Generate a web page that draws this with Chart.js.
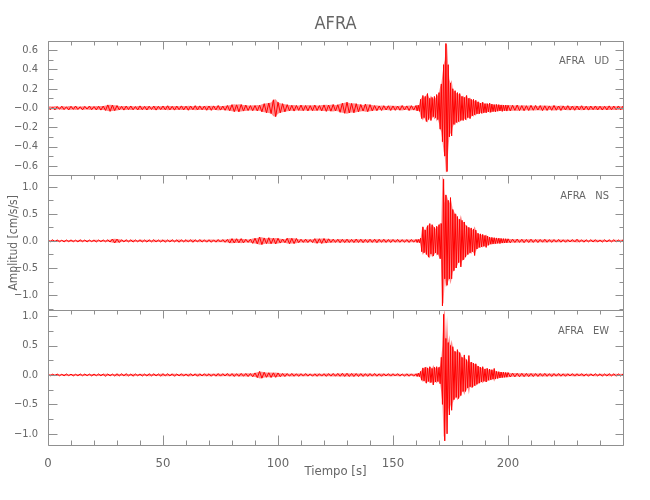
<!DOCTYPE html>
<html>
<head>
<meta charset="utf-8">
<title>AFRA</title>
<script src="https://cdn.jsdelivr.net/npm/chart.js@4.4.0/dist/chart.umd.min.js"></script>
<style>
    body { margin: 0; background: #fff; }
</style>
</head>
<body>
<canvas id="grafico" width="650" height="500"></canvas>
<script>
const estacion = "AFRA";
const canales = ["UD", "NS", "EW"];

// muestreo: 1 s fuera del sismo, 0.5 s entre 160 y 200 s
const tramos = [[0, 160, 1], [160.5, 200, 0.5], [201, 250, 1]];
const tiempo = [];
tramos.forEach(([desde, hasta, paso]) => {
    for (let t = desde; t <= hasta + 1e-9; t += paso) tiempo.push(Math.round(t * 10) / 10);
});

const ampUD = [
    0.015, -0.018, 0.012, -0.02, 0.016, -0.014, 0.019, -0.017, 0.013, -0.02,
    0.018, -0.015, 0.02, -0.016, 0.014, -0.019, 0.017, -0.013, 0.02, -0.018,
    0.016, -0.02, 0.018, -0.022, 0.02, -0.025, 0.032, -0.035, 0.03, -0.028,
    0.025, -0.02, 0.018, -0.022, 0.02, -0.017, 0.021, -0.019, 0.016, -0.02,
    0.022, -0.018, 0.017, -0.021, 0.019, -0.016, 0.02, -0.022, 0.018, -0.017,
    0.021, -0.019, 0.023, -0.02, 0.018, -0.022, 0.02, -0.018, 0.022, -0.02,
    0.019, -0.023, 0.021, -0.018, 0.024, -0.02, 0.022, -0.019, 0.02, -0.023,
    0.021, -0.024, 0.022, -0.02, 0.025, -0.022, 0.02, -0.024, 0.026, -0.028,
    0.035, -0.038, 0.033, -0.04, 0.036, -0.032, 0.03, -0.027, 0.025, -0.028,
    0.026, -0.03, 0.028, -0.04, 0.045, -0.05, 0.052, -0.058, 0.085, -0.09,
    0.06, -0.05, 0.045, -0.04, 0.035, -0.03, 0.028, -0.032, 0.027, -0.025,
    0.03, -0.028, 0.026, -0.03, 0.025, -0.028, 0.03, -0.027, 0.025, -0.03,
    0.032, -0.035, 0.03, -0.033, 0.036, -0.03, 0.034, -0.045, 0.05, -0.055,
    0.06, -0.052, 0.048, -0.05, 0.045, -0.04, 0.036, -0.032, 0.04, -0.038,
    0.035, -0.03, 0.025, -0.028, 0.022, -0.025, 0.024, -0.021, 0.023, -0.025,
    0.022, -0.024, 0.02, -0.023, 0.025, -0.021, 0.022, -0.026, 0.024, -0.022,
    0.025,
    // 160.5 - 200 s
    -0.03, 0.028, -0.035, 0.09, -0.11, 0.13, -0.1, 0.12, -0.14, 0.15,
    -0.12, 0.1, -0.13, 0.11, -0.09, 0.12, -0.1, 0.14, -0.12, 0.16,
    -0.22, 0.25, -0.35, 0.45, -0.5, 0.67, -0.66, 0.45, -0.3, 0.26,
    -0.29, 0.2, -0.17, 0.18, -0.15, 0.16, -0.14, 0.15, -0.13, 0.12,
    -0.13, 0.11, -0.12, 0.13, -0.1, 0.1, -0.11, 0.09, -0.08, 0.09,
    -0.07, 0.08, -0.06, 0.065, -0.06, 0.05, -0.055, 0.06, -0.05, 0.045,
    -0.05, 0.045, -0.04, 0.05, -0.045, 0.04, -0.038, 0.035, -0.04, 0.036,
    -0.033, 0.035, -0.03, 0.032, -0.035, 0.03, -0.028, 0.03, -0.032, 0.028,
    // 201 - 250 s
    -0.03, 0.028, -0.025, 0.03, -0.027, 0.025, -0.028, 0.024, -0.026, 0.027,
    -0.024, 0.026, -0.022, 0.025, -0.027, 0.023, -0.025, 0.022, -0.024, 0.026,
    -0.023, 0.021, -0.025, 0.022, -0.02, 0.024, -0.022, 0.02, -0.023, 0.021,
    -0.02, 0.023, -0.021, 0.019, -0.022, 0.02, -0.018, 0.021, -0.02, 0.019,
    -0.021, 0.018, -0.02, 0.022, -0.019, 0.02, -0.018, 0.021, -0.019, 0.02
];

const ampNS = [
    0.015, -0.017, 0.02, -0.014, 0.018, -0.016, 0.013, -0.019, 0.017, -0.015,
    0.019, -0.016, 0.014, -0.018, 0.02, -0.015, 0.017, -0.019, 0.016, -0.014,
    0.018, -0.02, 0.017, -0.015, 0.019, -0.017, 0.02, -0.022, 0.035, -0.038,
    0.033, -0.03, 0.022, -0.019, 0.021, -0.018, 0.02, -0.022, 0.019, -0.017,
    0.021, -0.02, 0.018, -0.022, 0.02, -0.019, 0.023, -0.02, 0.018, -0.021,
    0.02, -0.023, 0.019, -0.021, 0.022, -0.018, 0.02, -0.024, 0.021, -0.019,
    0.023, -0.02, 0.022, -0.025, 0.021, -0.019, 0.024, -0.022, 0.02, -0.023,
    0.022, -0.025, 0.02, -0.023, 0.025, -0.022, 0.024, -0.026, 0.028, -0.04,
    0.042, -0.038, 0.04, -0.035, 0.042, -0.036, 0.03, -0.028, 0.032, -0.045,
    0.05, -0.055, 0.07, -0.068, 0.055, -0.05, 0.058, -0.052, 0.05, -0.055,
    0.048, -0.04, 0.035, -0.032, 0.05, -0.052, 0.048, -0.05, 0.045, -0.032,
    0.03, -0.028, 0.032, -0.03, 0.027, -0.03, 0.042, -0.045, 0.04, -0.046,
    0.044, -0.04, 0.038, -0.03, 0.032, -0.028, 0.03, -0.033, 0.029, -0.031,
    0.032, -0.03, 0.028, -0.031, 0.033, -0.029, 0.03, -0.032, 0.028, -0.03,
    0.031, -0.028, 0.03, -0.032, 0.029, -0.027, 0.03, -0.028, 0.026, -0.029,
    0.027, -0.025, 0.028, -0.026, 0.024, -0.027, 0.025, -0.028, 0.026, -0.024,
    0.027,
    // 160.5 - 200 s
    -0.03, 0.028, -0.032, 0.05, -0.2, 0.26, -0.22, 0.2, -0.25, 0.28,
    -0.3, 0.32, -0.24, 0.3, -0.28, 0.25, -0.22, 0.27, -0.25, 0.3,
    -0.33, 0.32, -1.2, 1.14, -0.7, 0.85, -0.82, 0.75, -0.7, 0.8,
    -0.7, 0.58, -0.55, 0.5, -0.5, 0.45, -0.4, 0.4, -0.48, 0.38,
    -0.35, 0.35, -0.3, 0.28, -0.25, 0.25, -0.22, 0.24, -0.2, 0.22,
    -0.27, 0.2, -0.15, 0.14, -0.12, 0.13, -0.11, 0.12, -0.1, 0.1,
    -0.12, 0.09, -0.08, 0.07, -0.06, 0.065, -0.055, 0.06, -0.05, 0.055,
    -0.045, 0.05, -0.048, 0.045, -0.04, 0.042, -0.038, 0.04, -0.035, 0.038,
    // 201 - 250 s
    -0.035, 0.032, -0.03, 0.033, -0.028, 0.03, -0.032, 0.027, -0.029, 0.031,
    -0.028, 0.026, -0.03, 0.027, -0.025, 0.029, -0.026, 0.024, -0.027, 0.025,
    -0.023, 0.026, -0.024, 0.022, -0.025, 0.023, -0.021, 0.024, -0.022, 0.03,
    -0.022, 0.02, -0.023, 0.021, -0.019, 0.022, -0.02, 0.023, -0.021, 0.019,
    -0.022, 0.02, -0.018, 0.021, -0.019, 0.022, -0.02, 0.018, -0.021, 0.02
];

const ampEW = [
    0.012, -0.015, 0.013, -0.011, 0.016, -0.014, 0.012, -0.015, 0.017, -0.013,
    0.014, -0.016, 0.012, -0.015, 0.018, -0.014, 0.016, -0.013, 0.015, -0.017,
    0.016, -0.014, 0.018, -0.015, 0.017, -0.02, 0.018, -0.016, 0.015, -0.018,
    0.02, -0.017, 0.019, -0.016, 0.021, -0.018, 0.016, -0.02, 0.018, -0.015,
    0.017, -0.019, 0.016, -0.018, 0.02, -0.017, 0.019, -0.016, 0.018, -0.02,
    0.022, -0.018, 0.02, -0.017, 0.019, -0.021, 0.018, -0.016, 0.02, -0.019,
    0.018, -0.02, 0.021, -0.017, 0.019, -0.022, 0.02, -0.018, 0.021, -0.019,
    0.02, -0.022, 0.019, -0.021, 0.023, -0.02, 0.022, -0.019, 0.024, -0.021,
    0.023, -0.025, 0.022, -0.024, 0.026, -0.023, 0.025, -0.027, 0.024, -0.03,
    0.035, -0.045, 0.06, -0.055, 0.045, -0.04, 0.038, -0.042, 0.036, -0.04,
    0.035, -0.03, 0.025, -0.027, 0.024, -0.022, 0.025, -0.023, 0.021, -0.024,
    0.022, -0.02, 0.023, -0.021, 0.019, -0.022, 0.02, -0.023, 0.021, -0.02,
    0.022, -0.024, 0.023, -0.021, 0.025, -0.022, 0.026, -0.024, 0.027, -0.025,
    0.028, -0.026, 0.025, -0.027, 0.024, -0.026, 0.023, -0.025, 0.022, -0.024,
    0.023, -0.021, 0.024, -0.022, 0.02, -0.023, 0.021, -0.019, 0.022, -0.02,
    0.021, -0.019, 0.022, -0.02, 0.018, -0.021, 0.02, -0.022, 0.019, -0.021,
    0.02,
    // 160.5 - 200 s
    -0.025, 0.03, -0.028, 0.06, -0.09, 0.12, -0.1, 0.13, -0.14, 0.12,
    -0.11, 0.14, -0.13, 0.11, -0.17, 0.13, -0.12, 0.14, -0.11, 0.13,
    -0.15, 0.3, -0.5, 1.03, -1.12, 0.62, -1.0, 0.55, -0.68, 0.5,
    -0.6, 0.48, -0.42, 0.4, -0.38, 0.43, -0.4, 0.38, -0.35, 0.3,
    -0.28, 0.34, -0.28, 0.26, -0.22, 0.33, -0.2, 0.22, -0.21, 0.2,
    -0.18, 0.19, -0.16, 0.15, -0.14, 0.13, -0.12, 0.14, -0.11, 0.1,
    -0.12, 0.11, -0.09, 0.1, -0.08, 0.09, -0.07, 0.11, -0.07, 0.06,
    -0.06, 0.055, -0.05, 0.05, -0.045, 0.048, -0.04, 0.042, -0.038, 0.04,
    // 201 - 250 s
    -0.035, 0.03, -0.032, 0.028, -0.03, 0.027, -0.029, 0.026, -0.028, 0.025,
    -0.027, 0.024, -0.026, 0.025, -0.023, 0.026, -0.024, 0.022, -0.025, 0.023,
    -0.021, 0.024, -0.022, 0.02, -0.023, 0.021, -0.019, 0.022, -0.02, 0.021,
    -0.019, 0.022, -0.02, 0.018, -0.021, 0.019, -0.017, 0.02, -0.018, 0.019,
    -0.02, 0.018, -0.019, 0.021, -0.017, 0.019, -0.02, 0.018, -0.019, 0.017
];

// marcas de los ejes
const marcasX = [0, 50, 100, 150, 200];
const marcasUD = [-0.6, -0.4, -0.2, 0, 0.2, 0.4, 0.6];
const etiquetasUD = ["\u22120.6", "\u22120.4", "\u22120.2", "\u22120.0", "0.2", "0.4", "0.6"];
const marcasNS = [-1, -0.5, 0, 0.5, 1];
const etiquetasNS = ["\u22121.0", "\u22120.5", "0.0", "0.5", "1.0"];
const marcasEW = [-1, -0.5, 0, 0.5, 1];
const etiquetasEW = ["\u22121.0", "\u22120.5", "0.0", "0.5", "1.0"];

const tituloY = "Amplitud [cm/s/s]";
const tituloX = "Tiempo [s]";

const fuente = "'Liberation Sans Narrow', 'DejaVu Sans Condensed', 'Liberation Sans', sans-serif";
const colorTexto = "#666666";
const colorEje = "#909090";
const colorTraza = "#ff0000";
const colorRelleno = "rgba(255, 0, 0, 0.45)";

// paneles de arriba abajo
const paneles = [
    { id: "yUD", canal: canales[0], amp: ampUD, min: -0.7, max: 0.7, marcas: marcasUD, etiquetas: etiquetasUD, menor: 0.1, mayor: 0.2 },
    { id: "yNS", canal: canales[1], amp: ampNS, min: -1.28, max: 1.21, marcas: marcasNS, etiquetas: etiquetasNS, menor: 0.25, mayor: 0.5 },
    { id: "yEW", canal: canales[2], amp: ampEW, min: -1.19, max: 1.1, marcas: marcasEW, etiquetas: etiquetasEW, menor: 0.25, mayor: 0.5 }
];

function serie(amp, signo) {
    // signo 0: traza tal cual; +1 / -1: envolvente a partir de los mismos picos
    return tiempo.map((t, i) => ({ x: t, y: signo ? signo * Math.abs(amp[i]) : amp[i] }));
}

function ejeY(p) {
    return {
        type: "linear",
        position: "left",
        stack: "amplitud",
        stackWeight: 1,
        min: p.min,
        max: p.max,
        afterBuildTicks: scale => {
            scale.ticks = p.marcas.map(v => ({ value: v }));
        },
        afterFit: scale => {
            scale.width = 48;
        },
        grid: { display: false },
        border: { display: false },
        ticks: {
            autoSkip: false,
            padding: 2,
            color: colorTexto,
            font: { family: fuente, size: 11 },
            callback: (value, index) => p.etiquetas[index]
        }
    };
}

// marcas hacia dentro y marcos de cada panel, como en IDL
const marcasIDL = {
    id: "marcasIDL",
    afterDraw(chart) {
        const ctx = chart.ctx;
        const area = chart.chartArea;
        const ejeX = chart.scales.x;
        const nitido = v => Math.round(v) + 0.5;
        const izq = nitido(area.left);
        const der = nitido(area.right);

        ctx.save();
        ctx.strokeStyle = colorEje;
        ctx.lineWidth = 1;
        ctx.beginPath();
        paneles.forEach(p => {
            const s = chart.scales[p.id];
            const arriba = nitido(s.top);
            const abajo = nitido(s.bottom);
            ctx.moveTo(izq, arriba); ctx.lineTo(der, arriba);
            ctx.moveTo(izq, arriba); ctx.lineTo(izq, abajo);
            ctx.moveTo(der, arriba); ctx.lineTo(der, abajo);

            const desde = Math.ceil(p.min / p.menor - 1e-6);
            const hasta = Math.floor(p.max / p.menor + 1e-6);
            for (let k = desde; k <= hasta; k++) {
                const v = k * p.menor;
                const esMayor = Math.abs(v / p.mayor - Math.round(v / p.mayor)) < 1e-6;
                const y = nitido(s.getPixelForValue(v));
                ctx.moveTo(izq, y); ctx.lineTo(izq + (esMayor ? 9 : 5), y);
                ctx.moveTo(der, y); ctx.lineTo(der - (esMayor ? 8 : 4), y);
            }

            for (let t = 0; t <= 250; t += 10) {
                const x = nitido(ejeX.getPixelForValue(t));
                ctx.moveTo(x, arriba); ctx.lineTo(x, arriba + (t % 50 === 0 ? 8 : 4));
            }
        });

        const fondo = nitido(area.bottom);
        ctx.moveTo(izq, fondo); ctx.lineTo(der, fondo);
        for (let t = 0; t <= 250; t += 10) {
            const x = nitido(ejeX.getPixelForValue(t));
            ctx.moveTo(x, fondo); ctx.lineTo(x, fondo - (t % 50 === 0 ? 10 : 5));
        }
        ctx.stroke();

        ctx.fillStyle = colorTexto;
        ctx.font = "11px " + fuente;
        ctx.textAlign = "right";
        ctx.textBaseline = "middle";
        paneles.forEach(p => {
            const s = chart.scales[p.id];
            ctx.fillText(estacion + "   " + p.canal, 609, s.top + 20.5);
        });

        // titulo vertical centrado en el panel del medio
        const medio = chart.scales.yNS;
        ctx.font = "12px " + fuente;
        ctx.textAlign = "center";
        ctx.translate(14, (medio.top + medio.bottom) / 2);
        ctx.rotate(-Math.PI / 2);
        ctx.fillText(tituloY, 0, 0);
        ctx.restore();
    }
};

const escalas = {
    x: {
        type: "linear",
        position: "bottom",
        min: 0,
        max: 250,
        afterBuildTicks: scale => {
            scale.ticks = marcasX.map(v => ({ value: v }));
        },
        afterFit: scale => {
            scale.height = 55;
        },
        grid: { display: false },
        border: { display: false },
        ticks: {
            autoSkip: false,
            maxRotation: 0,
            padding: 3,
            color: colorTexto,
            font: { family: fuente, size: 13 }
        },
        title: {
            display: true,
            text: tituloX,
            color: colorTexto,
            font: { family: fuente, size: 13 },
            padding: { top: 0, bottom: 21 }
        }
    }
};
// el ultimo eje de la pila queda arriba
[...paneles].reverse().forEach(p => {
    escalas[p.id] = ejeY(p);
});

const conjuntos = [];
paneles.forEach(p => {
    const comun = { xAxisID: "x", yAxisID: p.id, pointRadius: 0, tension: 0 };
    conjuntos.push({ ...comun, label: p.canal + " sup", data: serie(p.amp, 1), borderWidth: 0, fill: false });
    conjuntos.push({ ...comun, label: p.canal + " inf", data: serie(p.amp, -1), borderWidth: 0, backgroundColor: colorRelleno, fill: "-1" });
    conjuntos.push({
        ...comun,
        label: estacion + " " + p.canal,
        data: serie(p.amp, 0),
        borderColor: colorTraza,
        borderWidth: 1,
        borderJoinStyle: "bevel",
        fill: false
    });
});

new Chart(document.getElementById("grafico"), {
    type: "line",
    data: { datasets: conjuntos },
    options: {
        responsive: false,
        devicePixelRatio: 1,
        animation: false,
        normalized: true,
        layout: { padding: { top: 0, right: 27, bottom: 0, left: 0 } },
        scales: escalas,
        plugins: {
            legend: { display: false },
            tooltip: { enabled: false },
            title: {
                display: true,
                text: estacion,
                fullSize: false,
                color: colorTexto,
                font: { family: fuente, size: 18, weight: "normal" },
                padding: { top: 14, bottom: 5 }
            }
        }
    },
    plugins: [marcasIDL]
});
</script>
</body>
</html>
